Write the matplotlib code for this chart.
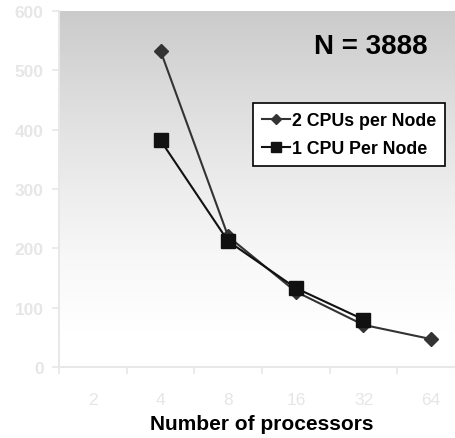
import numpy as np
import matplotlib.pyplot as plt
from matplotlib.ticker import FixedLocator, NullFormatter, FixedFormatter

plt.rcParams['font.family'] = ['Liberation Sans', 'DejaVu Sans']

processors = ['2', '4', '8', '16', '32', '64']
two_cpu_x = ['4', '8', '16', '32', '64']
two_cpu = [533, 220, 127, 71, 47]
one_cpu_x = ['4', '8', '16', '32']
one_cpu = [382, 212, 133, 80]

grid_grey = '#e8e8e8'
label_grey = '#e6e6e6'

fig = plt.figure(figsize=(4.56, 4.39), dpi=100)
ax = fig.add_axes([59 / 456, 71 / 439, 406 / 456, 356 / 439])

# vertical grey-to-white background fill (top -> bottom)
frac = np.linspace(0, 1, 512)
level = np.interp(frac, [0, 0.25, 0.5, 0.7, 0.9, 1.0],
                  [203, 221, 237, 248, 255, 255]) / 255
rgb = np.dstack([np.tile(level.reshape(-1, 1), (1, 4))] * 3)
ax.imshow(rgb, extent=[-0.5, 5.5, 0, 600], aspect='auto', origin='upper',
          interpolation='nearest', zorder=0)

xi = {p: i for i, p in enumerate(processors)}
ax.plot([xi[p] for p in two_cpu_x], two_cpu, color='#333333', lw=1.5,
        marker='D', ms=7, mfc='#333333', mec='#333333',
        label='2 CPUs per Node', zorder=3)
ax.plot([xi[p] for p in one_cpu_x], one_cpu, color='#111111', lw=1.5,
        marker='s', ms=9.5, mfc='#111111', mec='#111111',
        label='1 CPU Per Node', zorder=4)

ax.set_xlim(-0.5, 5.5)
ax.set_ylim(0, 600)

# category axis: ticks at the boundaries, labels at the centres
ax.xaxis.set_major_locator(FixedLocator(np.arange(-0.5, 6.0, 1.0)))
ax.xaxis.set_major_formatter(NullFormatter())
ax.xaxis.set_minor_locator(FixedLocator(np.arange(6)))
ax.xaxis.set_minor_formatter(FixedFormatter(processors))
ax.tick_params(axis='x', which='major', length=5, width=1.2, color=grid_grey,
               direction='out')
ax.tick_params(axis='x', which='minor', length=0, pad=18, labelsize=12.5,
               labelcolor=label_grey)

ax.set_yticks(range(0, 601, 100))
ax.tick_params(axis='y', length=5, width=1.2, color=grid_grey, pad=6,
               labelsize=12.5, labelcolor=label_grey)
for t in ax.get_yticklabels():
    t.set_fontweight('bold')

for side in ['top', 'right']:
    ax.spines[side].set_visible(False)
for side in ['left', 'bottom']:
    ax.spines[side].set_color(grid_grey)
    ax.spines[side].set_linewidth(1.5)

ax.set_xlabel('Number of processors', fontsize=15, fontweight='bold',
              labelpad=5)

ax.text(0.908, 0.903, 'N = 3888', transform=ax.transAxes, fontsize=20,
        fontweight='bold', ha='right', va='center')

leg = ax.legend(loc='upper left', bbox_to_anchor=(0.478, 0.742),
                frameon=True, fancybox=False, framealpha=1,
                edgecolor='black', prop={'size': 12.8, 'weight': 'bold'},
                handlelength=1.55, handletextpad=0.15, borderpad=0.5,
                labelspacing=0.65, borderaxespad=0)
leg.get_frame().set_linewidth(1.2)
for h in leg.legend_handles:
    h.set_markersize(h.get_markersize() * 0.8)

fig.savefig('out.png', dpi=100)
